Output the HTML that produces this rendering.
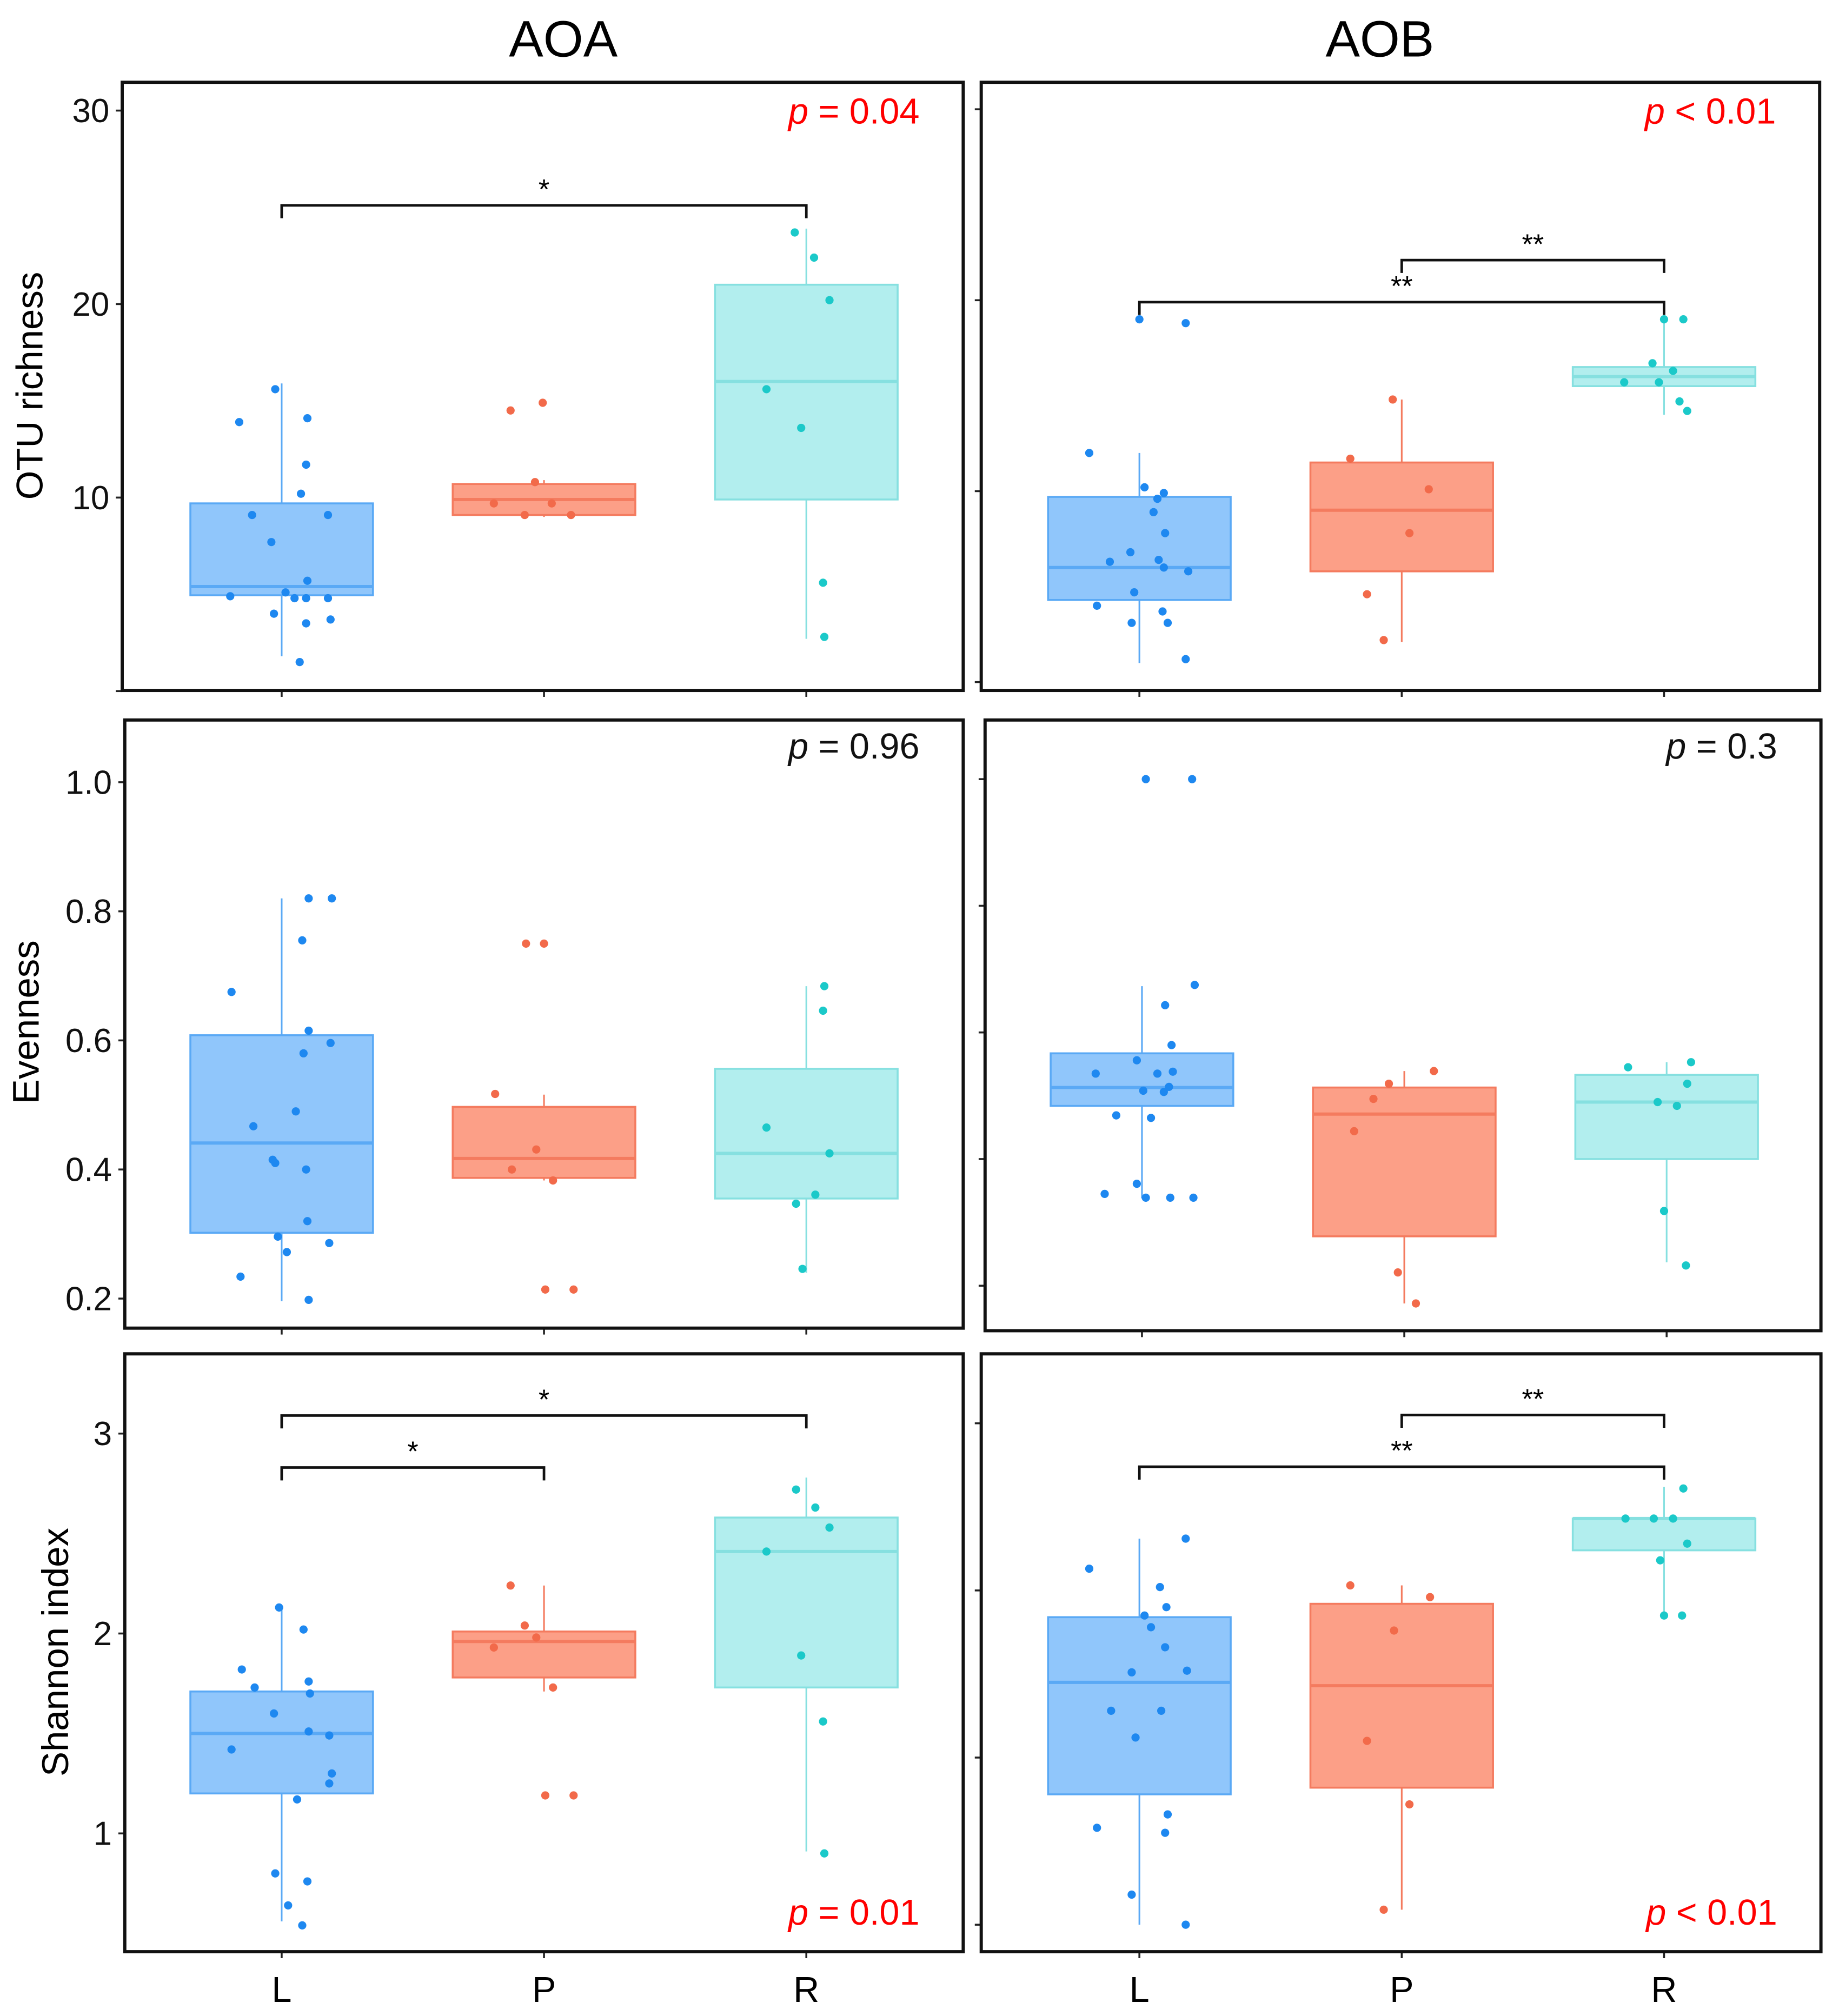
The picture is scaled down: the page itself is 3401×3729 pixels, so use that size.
<!DOCTYPE html>
<html><head><meta charset="utf-8">
<style>
html,body{margin:0;padding:0;background:#fff;}
svg{display:block;font-family:"Liberation Sans",Arial,sans-serif;}
</style></head>
<body>
<svg id="chart" width="3401" height="3729" viewBox="0 0 1430 1568" xmlns="http://www.w3.org/2000/svg">
<text x="438" y="44" font-size="40" text-anchor="middle">AOA</text>
<text x="1073" y="44" font-size="40" text-anchor="middle">AOB</text>
<text transform="translate(33,300) rotate(-90)" font-size="29" text-anchor="middle">OTU  richness</text>
<text transform="translate(30,795) rotate(-90)" font-size="29" text-anchor="middle">Evenness</text>
<text transform="translate(53,1285) rotate(-90)" font-size="29" text-anchor="middle">Shannon  index</text>
<g id="plots"></g>
</svg>
<script>
const categories = ["L","P","R"];
// Row 1 AOA (OTU richness)
const r1aBox = [[1.8,4.95,5.4,9.7,15.9],[9.0,9.1,9.9,10.7,10.9],[2.7,9.9,16.0,21.0,23.9]];
const r1aPts = [[15.6,13.9,14.1,11.7,10.2,9.1,9.1,7.7,5.7,4.9,5.1,4.8,4.8,4.8,4.0,3.7,3.5,1.5],[14.5,14.9,10.8,9.7,9.7,9.1,9.1],[23.7,22.4,20.2,15.6,13.6,5.6,2.8]];
const r1aJit = [[-5,-33,20,19,15,-23,36,-8,20,-40,3,10,19,36,-6,38,19,14],[-26,-1,-7,-39,6,-15,21],[-9,6,18,-31,-4,13,14]];
// Row 1 AOB
const r1bBox = [[1.0,4.3,6.0,9.7,12.0],[2.1,5.8,9.0,11.5,14.8],[14.0,15.5,16.0,16.5,19.0]];
const r1bPts = [[19.0,18.8,12.0,10.2,9.9,9.6,8.9,7.8,6.8,6.3,6.4,6.0,5.8,4.7,4.0,3.7,3.1,3.1,1.2],[14.8,11.7,10.1,7.8,4.6,2.2],[19.0,19.0,16.7,16.3,15.7,15.7,14.7,14.2]];
const r1bJit = [[0,36,-39,4,19,14,11,20,-7,-23,15,19,38,-4,-33,18,-6,22,36],[-7,-40,21,6,-27,-14],[0,15,-9,7,-31,-4,12,18]];
// Row 2 AOA (Evenness)
const r2aBox = [[0.196,0.302,0.441,0.608,0.82],[0.383,0.387,0.417,0.497,0.516],[0.24,0.355,0.425,0.556,0.684]];
const r2aPts = [[0.82,0.82,0.755,0.675,0.615,0.596,0.58,0.49,0.467,0.415,0.41,0.4,0.32,0.296,0.286,0.272,0.234,0.198],[0.75,0.75,0.517,0.431,0.4,0.383,0.214,0.214],[0.684,0.646,0.465,0.425,0.361,0.347,0.246]];
const r2aJit = [[21,39,16,-39,21,38,17,11,-22,-7,-5,19,20,-3,37,4,-32,21],[-14,0,-38,-6,-25,7,1,23],[14,13,-31,18,7,-8,-3]];
// Row 2 AOB
const r2bBox = [[0.338,0.484,0.513,0.567,0.673],[0.172,0.278,0.471,0.513,0.539],[0.237,0.40,0.49,0.533,0.553]];
const r2bPts = [[1.0,1.0,0.675,0.643,0.58,0.556,0.535,0.538,0.535,0.508,0.514,0.506,0.469,0.465,0.361,0.345,0.339,0.339,0.339],[0.539,0.519,0.495,0.444,0.221,0.172],[0.553,0.545,0.519,0.49,0.484,0.318,0.232]];
const r2bJit = [[3,39,41,18,23,-4,-36,24,12,1,21,17,-20,7,-4,-29,3,22,40],[23,-12,-24,-39,-5,9],[19,-30,16,-7,8,-2,15]];
// Row 3 AOA (Shannon)
const r3aBox = [[0.56,1.2,1.5,1.71,2.13],[1.71,1.78,1.96,2.01,2.24],[0.91,1.73,2.41,2.58,2.78]];
const r3aPts = [[2.13,2.02,1.82,1.73,1.76,1.7,1.6,1.51,1.49,1.42,1.3,1.25,1.17,0.8,0.76,0.64,0.54],[2.24,2.04,1.98,1.93,1.73,1.19,1.19],[2.72,2.63,2.53,2.41,1.89,1.56,0.9]];
const r3aJit = [[-2,17,-31,-21,21,22,-6,21,37,-39,39,37,12,-5,20,5,16],[-26,-15,-6,-39,7,1,23],[-8,7,18,-31,-4,13,14]];
// Row 3 AOB
const r3bBox = [[1.0,1.78,2.45,2.84,3.31],[1.09,1.82,2.43,2.92,3.03],[2.85,3.24,3.43,3.43,3.62]];
const r3bPts = [[3.31,3.13,3.02,2.9,2.85,2.78,2.66,2.52,2.51,2.28,2.28,2.12,1.66,1.58,1.55,1.18,1.0],[3.03,2.96,2.76,2.1,1.72,1.09],[3.61,3.43,3.43,3.43,3.28,3.18,2.85,2.85]];
const r3bJit = [[36,-39,16,21,4,9,20,37,-6,-22,17,-3,22,-33,20,-6,36],[-40,22,-6,-27,6,-14],[15,-30,-8,7,18,-3,0,14]];
// tick labels
const r1aTicks = [0,10,20,30], r1aLabels = [10,20,30], r1bTicks = [0,10,20,30];
const r2Ticks = [0.2,0.4,0.6,0.8,1.0];
const r3aTicks = [1,2,3], r3bTicks = [1,2,3,4];

const NS = "http://www.w3.org/2000/svg";
const root = document.getElementById('plots');
const fills = ["#90c6fb","#fc9f87","#b2eeee"], strokes = ["#5aa9f5","#f47b5f","#86e0e0"], dots = ["#1e88f0","#f26a4a","#1bc9c9"];
function mk(tag, attrs, parent){const e=document.createElementNS(NS,tag);for(const k in attrs)e.setAttribute(k,attrs[k]);(parent||root).appendChild(e);return e;}

function panel(cfg){
  const g = mk('g',{});
  
  
  const y = v => cfg.y0 - (v - cfg.v0) * cfg.k;
  const xc = i => cfg.cx + i*204;
  cfg.ticks.forEach(t=>{
    const tk = mk('line',{x1:cfg.x1-5,x2:cfg.x1,y1:y(t),y2:y(t),stroke:"#222","stroke-width":1.5},g);
    
    
  });
  (cfg.labels||[]).forEach(t=>{
    const tl = mk('text',{x:cfg.x1-10,y:y(t)+9,"font-size":26,"text-anchor":"end",fill:"#111"},g);
    tl.textContent = t.toFixed(cfg.dec);
    
    
  });
  categories.forEach((c,i)=>{
    const xt = mk('line',{x1:xc(i),x2:xc(i),y1:cfg.yb,y2:cfg.yb+5,stroke:"#222","stroke-width":1.5},g);
    
    
    const b = cfg.box[i];
    const wl = mk('line',{x1:xc(i),x2:xc(i),y1:y(b[0]),y2:y(b[4]),stroke:strokes[i],"stroke-width":1.3},g);
    
    
    const r = mk('rect',{x:xc(i)-71,y:y(b[3]),width:142,height:Math.max(1,y(b[1])-y(b[3])),fill:fills[i],stroke:strokes[i],"stroke-width":1.5},g);
    
    
    const md = mk('line',{x1:xc(i)-71,x2:xc(i)+71,y1:y(b[2]),y2:y(b[2]),stroke:strokes[i],"stroke-width":2.5},g);
    
    
    cfg.pts[i].forEach((v,j)=>{
      const p = mk('circle',{cx:xc(i)+cfg.jit[i][j],cy:y(v),r:3.2,fill:dots[i]},g);
      
      
    });
  });
  (cfg.brackets||[]).forEach(br=>{
    const yy=y(br[2]);
    const pth = mk('path',{d:`M${xc(br[0])},${yy+10}V${yy}H${xc(br[1])}V${yy+10}`,fill:"none",stroke:"#111","stroke-width":2},g);
    
    
    const st = mk('text',{x:(xc(br[0])+xc(br[1]))/2,y:yy-5,"font-size":22,"text-anchor":"middle"},g);
    st.textContent = br[3];
    
    
  });
  const fr = mk('rect',{x:cfg.x1,y:cfg.yt,width:cfg.x2-cfg.x1,height:cfg.yb-cfg.yt,fill:"none",stroke:"#111","stroke-width":2.5},g);
  
  
  const pv = mk('text',{x:cfg.x2-34,y:cfg.py,"font-size":28,"text-anchor":"end",fill:cfg.pc},g);
  pv.innerHTML = '<tspan font-style="italic">p</tspan> '+cfg.ptxt;
  
  
}

panel({name:'panel-aoa-otu',x1:95,x2:749,yt:64,yb:537,y0:387,v0:10,k:15.05,cx:219,ticks:r1aTicks,labels:r1aLabels,dec:0,box:r1aBox,pts:r1aPts,jit:r1aJit,brackets:[[0,2,25.1,'*']],py:96,pc:'#f00',ptxt:'= 0.04'});
panel({name:'panel-aob-otu',x1:763,x2:1415,yt:64,yb:537,y0:382,v0:10,k:14.85,cx:886,ticks:r1bTicks,labels:[],dec:0,box:r1bBox,pts:r1bPts,jit:r1bJit,brackets:[[0,2,19.9,'**'],[1,2,22.1,'**']],py:96,pc:'#f00',ptxt:'&lt; 0.01'});
panel({name:'panel-aoa-evenness',x1:97,x2:749,yt:560,yb:1033,y0:1010,v0:0.2,k:502,cx:219,ticks:r2Ticks,labels:r2Ticks,dec:1,box:r2aBox,pts:r2aPts,jit:r2aJit,py:590,pc:'#111',ptxt:'= 0.96'});
panel({name:'panel-aob-evenness',x1:766,x2:1416,yt:560,yb:1035,y0:1000,v0:0.2,k:492.5,cx:888,ticks:r2Ticks,labels:[],dec:1,box:r2bBox,pts:r2bPts,jit:r2bJit,py:590,pc:'#111',ptxt:'= 0.3'});
panel({name:'panel-aoa-shannon',x1:97,x2:749,yt:1053,yb:1518,y0:1426,v0:1,k:155.5,cx:219,ticks:r3aTicks,labels:r3aTicks,dec:0,box:r3aBox,pts:r3aPts,jit:r3aJit,brackets:[[0,2,3.09,'*'],[0,1,2.83,'*']],py:1497,pc:'#f00',ptxt:'= 0.01'});
panel({name:'panel-aob-shannon',x1:763,x2:1416,yt:1053,yb:1518,y0:1497,v0:1,k:130,cx:886,ticks:r3bTicks,labels:[],dec:0,box:r3bBox,pts:r3bPts,jit:r3bJit,brackets:[[0,2,3.74,'**'],[1,2,4.05,'**']],py:1497,pc:'#f00',ptxt:'&lt; 0.01'});

[[219,'aoa'],[886,'aob']].forEach(([cx,s])=>{
  categories.forEach((c,i)=>{
    const t = mk('text',{x:cx+i*204,y:1557,"font-size":28,"text-anchor":"middle"});
    t.textContent = c;
    
    
  });
});
</script>
</body></html>
